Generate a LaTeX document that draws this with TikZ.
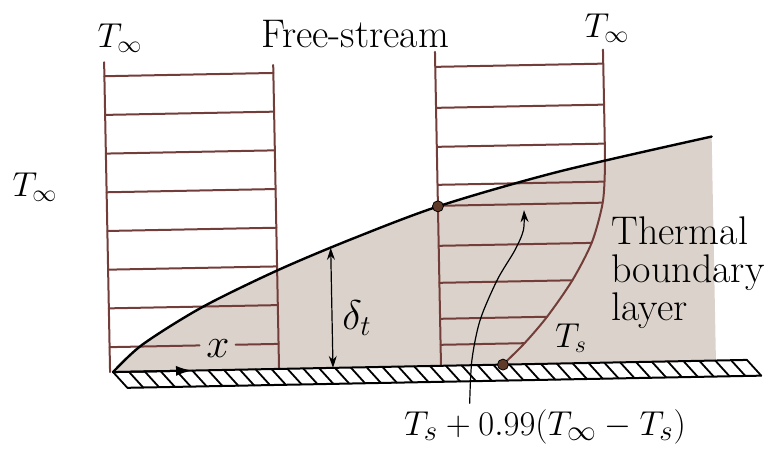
\documentclass[tikz,border=0pt]{standalone}
\usetikzlibrary{arrows.meta}
\definecolor{blgray}{RGB}{219,211,203}
\definecolor{profline}{RGB}{115,62,58}
\definecolor{dotbrown}{RGB}{95,58,40}
\begin{document}
\begin{tikzpicture}[x=0.5pt, y=-0.5pt, font=\fontsize{20}{24}\selectfont, line join=round, line cap=round, >={Stealth[length=6pt,width=4pt]}]
	\tikzset{prof/.style={profline, line width=1pt},
		wall/.style={line width=1pt},
		tlbl/.style={font=\fontsize{18.5}{22}\selectfont},
		bldot/.style={circle, fill=dotbrown, draw=black, line width=.4pt, inner sep=0pt, minimum size=5.5pt}}
	\useasboundingbox (0,0) rectangle (768,452);
	\begin{scope}[rotate around={1.1:(430,366)}]
		% thermal layer
		\fill[blgray] plot[smooth] coordinates {(113,366) (143,339) (203,303) (278,268) (353,238) (443,206) (563,174) (716,142)} -- (716,366) -- cycle;
		% left profile
		\draw[prof] (110,56) -- (110,366) (279,62) -- (279,366);
		\foreach \i in {0,...,6} \draw[prof] (110,70+38.7*\i) -- (279,70+38.7*\i);
		\draw[prof] (110,341) -- (200,341) (236,341) -- (279,341);
		% right profile
		\draw[prof] (441,52) -- (441,366);
		\draw[prof] plot[smooth] coordinates {(609,53) (609,150) (608,185) (605,210) (594,246) (574,283) (548,319) (525,345) (503,366)};
		\foreach \y/\xe in {67/609, 108/609, 147/609, 185/608, 206/605, 246/594, 283/574, 319/548, 345/525}
			\draw[prof] (441,\y) -- (\xe,\y);
		% edge of the layer
		\draw[line width=1.2pt] plot[smooth] coordinates {(113,366) (143,339) (203,303) (278,268) (353,238) (443,206) (563,174) (716,142)};
		% wall
		\draw[wall] (113,366) -- (747,366) (127,382) -- (761,382);
		\foreach \i in {0,...,40} \draw[line width=.9pt] (113+15.85*\i,366) -- (127+15.85*\i,382);
		\draw[-{Latex[length=8pt,width=5pt]}, line width=1pt] (113,366) -- (192,366);
		% thickness
		\coordinate (dtop) at (333,246);
		\coordinate (dbot) at (333,366);
		\draw[<->, line width=.6pt] (dtop) -- (dbot);
		% points
		\node[bldot] (d99) at (441,206.5) {};
		\node[bldot] (dTs) at (503,366) {};
		\coordinate (arrS) at (469,404);
		\coordinate (arrE) at (527,212);
		\draw[->, line width=.6pt] plot[smooth] coordinates {(arrS) (472,361) (481,321) (499,281) (517,252) (526,232) (arrE)};
	\end{scope}
	\node[tlbl] (tinfA) at (120,38) {$T_\infty$};
	\node (fs) at (355,34) {Free-stream};
	\node[tlbl] (tinfB) at (607,28) {$T_\infty$};
	\node[tlbl] (tinfL) at (35,187) {$T_\infty$};
	\node (xlbl) at (218,349) {$x$};
	\node (dlbl) at (357,318) {$\delta_t$};
	\node[tlbl] (tslbl) at (571,338) {$T_s$};
	\node[align=left, anchor=west, inner sep=0pt, font=\fontsize{20}{19}\selectfont] (tbl) at (611,273) {Thermal\\boundary\\layer};
	\node[font=\fontsize{19}{22}\selectfont] (eqlbl) at (545,427) {$T_s + 0.99(T_\infty - T_s)$};
\end{tikzpicture}
\end{document}
